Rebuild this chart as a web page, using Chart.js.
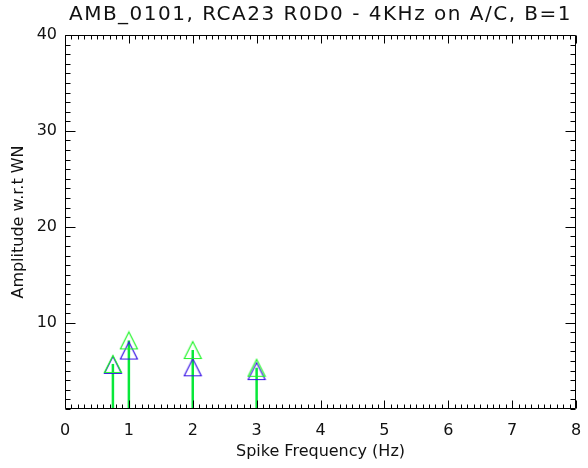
<!DOCTYPE html>
<html><head><meta charset="utf-8">
<style>html,body{margin:0;padding:0;background:#fff}#wrap{width:588px;height:468px}</style>
<script src="https://cdn.jsdelivr.net/npm/chart.js@4/dist/chart.umd.min.js"></script>
</head><body><div id="wrap"><canvas id="c" width="588" height="468"></canvas></div>
<script>
const TITLE = 'AMB_0101, RCA23 R0D0 - 4KHz on A/C, B=1';
const X_LABEL = 'Spike Frequency (Hz)';
const Y_LABEL = 'Amplitude w.r.t WN';
const frequencies = [0.75, 1, 2, 3];
const greenAmp = [5.7, 8.15, 7.15, 5.3];
const blueAmp = [5.6, 7.1, 5.35, 4.95];
const xTicks = [0, 1, 2, 3, 4, 5, 6, 7, 8];
const yTicks = [10, 20, 30, 40];
const X_MIN = 0, X_MAX = 8, Y_MIN = 1, Y_MAX = 40;

const GREEN_LINE = '#08e83a';
const GREEN_MARK = '#22f52a';
const BLUE_MARK = '#3a14e6';
const FONT = "'DejaVu Sans', sans-serif";

function tri(color) {
  const s = 20, c = document.createElement('canvas');
  c.width = s; c.height = s;
  const g = c.getContext('2d');
  g.strokeStyle = color; g.lineWidth = 1.2;
  g.beginPath(); g.moveTo(1.5, 18.5); g.lineTo(10, 1.5); g.lineTo(18.5, 18.5); g.closePath(); g.stroke();
  return c;
}

const datasets = [];
frequencies.forEach((f, i) => {
  datasets.push({
    type: 'line', data: [{x: f, y: Y_MIN}, {x: f, y: greenAmp[i]}],
    borderColor: GREEN_LINE, borderWidth: 2.5, pointRadius: 0, order: 3, clip: false
  });
});
datasets.push({
  type: 'scatter', data: frequencies.map((f, i) => ({x: f, y: blueAmp[i]})),
  pointStyle: tri(BLUE_MARK), pointRadius: 10, order: 2, clip: false
});
datasets.push({
  type: 'scatter', data: frequencies.map((f, i) => ({x: f, y: greenAmp[i]})),
  pointStyle: tri(GREEN_MARK), pointRadius: 10, order: 1, clip: false
});

const titleSpacing = {
  id: 'titleSpacing',
  beforeDraw(chart) {
    const tb = chart.titleBlock;
    if (tb && !tb._spaced) {
      const orig = tb.draw.bind(tb);
      tb.draw = function (area) {
        chart.ctx.save();
        chart.ctx.letterSpacing = '1.5px';
        orig(area);
        chart.ctx.restore();
      };
      tb._spaced = true;
    }
  }
};

const frameTicks = {
  id: 'frameTicks',
  afterDraw(chart) {
    const {ctx, chartArea: {left, right, top, bottom}, scales: {x, y}} = chart;
    ctx.save();
    ctx.strokeStyle = '#000'; ctx.lineWidth = 1;
    const L = Math.round(left) + 0.5, R = Math.round(right) - 0.5, T = Math.round(top) + 0.5, B = Math.round(bottom) - 0.5;
    ctx.beginPath();
    ctx.rect(L, T, R - L, B - T);
    for (let k = X_MIN * 10; k <= X_MAX * 10; k++) {
      const v = k / 10, px = Math.round(x.getPixelForValue(v)) + 0.5;
      const len = (k % 10 === 0) ? 8 : 4;
      ctx.moveTo(px, B); ctx.lineTo(px, B - len);
      ctx.moveTo(px, T); ctx.lineTo(px, T + len);
    }
    for (let v = Math.ceil(Y_MIN); v <= Y_MAX; v++) {
      const py = Math.round(y.getPixelForValue(v)) + 0.5;
      const len = (v % 10 === 0) ? 10 : 5;
      ctx.moveTo(L, py); ctx.lineTo(L + len, py);
      ctx.moveTo(R, py); ctx.lineTo(R - len, py);
    }
    ctx.stroke();
    ctx.restore();
  }
};

new Chart(document.getElementById('c'), {
  type: 'scatter',
  data: {datasets},
  plugins: [titleSpacing, frameTicks],
  options: {
    responsive: false, animation: false, devicePixelRatio: 1,
    layout: {padding: {left: 0, right: 12, top: 0, bottom: 0}},
    plugins: {
      legend: {display: false}, tooltip: {enabled: false},
      title: {display: true, text: TITLE, color: '#111', fullSize: false,
        font: {family: FONT, size: 20, weight: 'normal', lineHeight: 1.2},
        padding: {top: 3, bottom: 8}}
    },
    scales: {
      x: {type: 'linear', min: X_MIN, max: X_MAX,
        afterBuildTicks: s => { s.ticks = xTicks.map(v => ({value: v})); },
        afterFit: s => { s.height = 59; s.paddingRight = 0; s.paddingLeft = 0; },
        grid: {display: false, drawTicks: false}, border: {display: false},
        ticks: {color: '#111', font: {family: FONT, size: 16}, padding: 12, maxRotation: 0, autoSkip: false},
        title: {display: true, text: X_LABEL, color: '#111', font: {family: FONT, size: 16, lineHeight: 1.2}, padding: {top: 0, bottom: 7}}
      },
      y: {type: 'linear', min: Y_MIN, max: Y_MAX,
        afterBuildTicks: s => { s.ticks = yTicks.map(v => ({value: v})); },
        afterFit: s => { s.width = 65; },
        grid: {display: false, drawTicks: false}, border: {display: false},
        ticks: {color: '#111', font: {family: FONT, size: 16}, padding: 8, autoSkip: false},
        title: {display: true, text: Y_LABEL, color: '#111', font: {family: FONT, size: 16, lineHeight: 1.2}, padding: {top: 9, bottom: 0}}
      }
    }
  }
});
</script>
</body></html>
